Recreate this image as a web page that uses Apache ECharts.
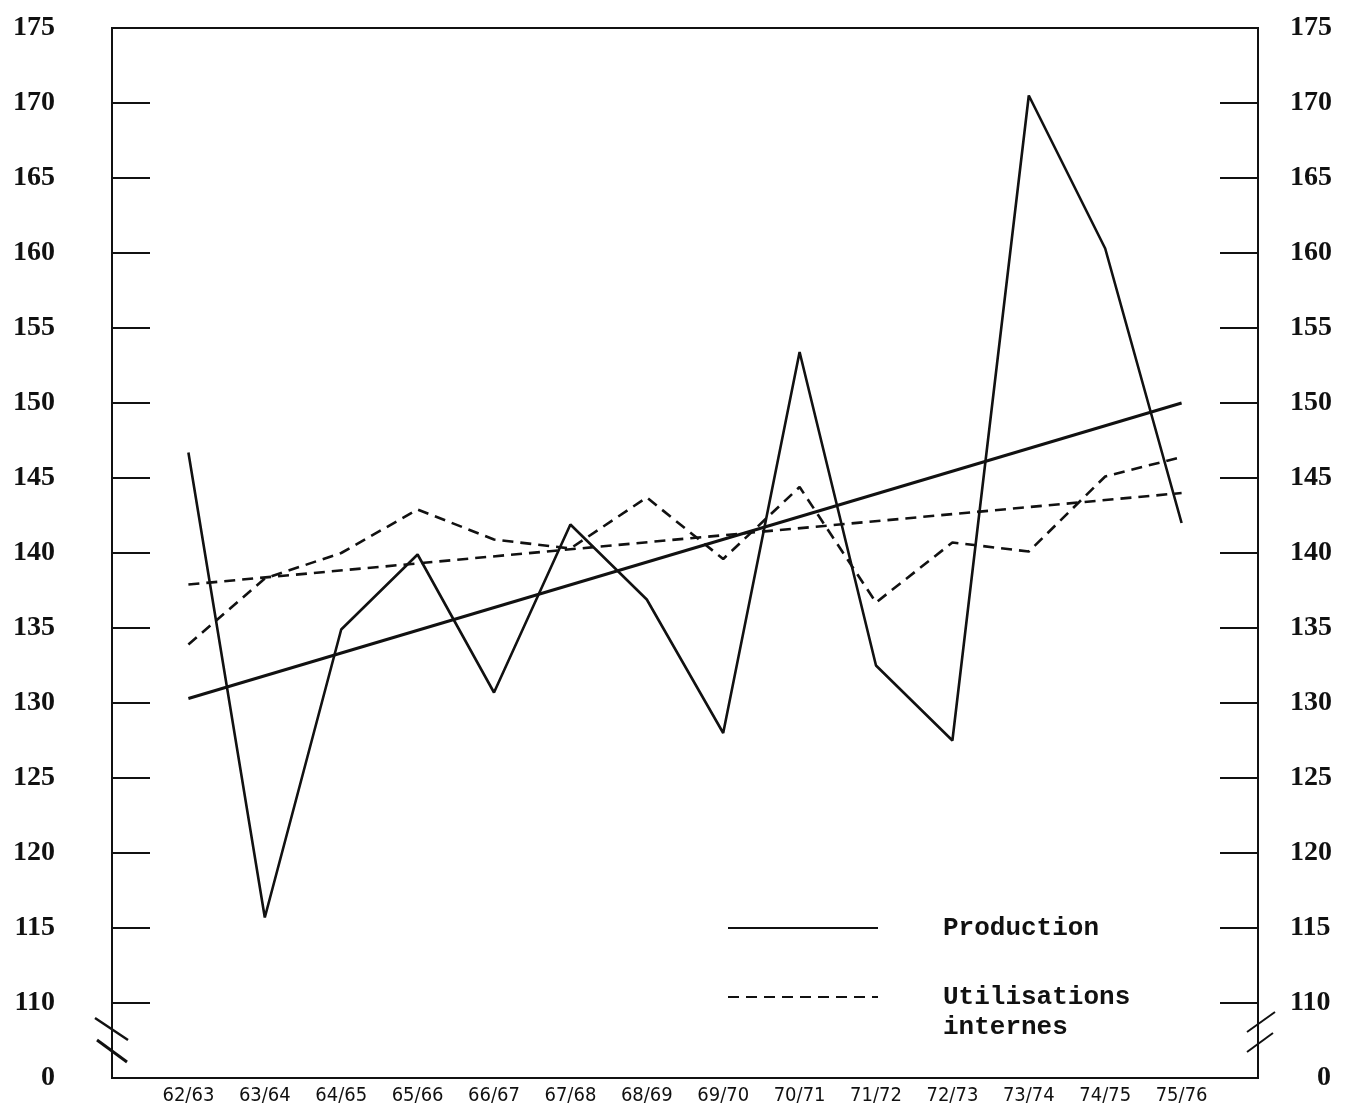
<!DOCTYPE html>
<html>
<head>
<meta charset="utf-8">
<script src="https://cdn.jsdelivr.net/npm/echarts@6/dist/echarts.min.js"></script>
<style>
  html, body { margin: 0; padding: 0; background: #fff; }
  #chart { width: 1347px; height: 1117px; }
</style>
</head>
<body>
<div id="chart"></div>
<script>
// ---- data ----
const years = ['62/63','63/64','64/65','65/66','66/67','67/68','68/69','69/70','70/71','71/72','72/73','73/74','74/75','75/76'];
const production = [146.7, 115.7, 134.9, 139.9, 130.7, 141.9, 136.9, 128.0, 153.4, 132.5, 127.5, 170.5, 160.3, 142.0];
const utilisations = [133.9, 138.3, 140.0, 142.9, 140.9, 140.3, 143.7, 139.6, 144.4, 136.7, 140.7, 140.1, 145.1, 146.4];
// trend lines: values at first and last year
const productionTrendEnds = [130.3, 150.0];
const utilisationsTrendEnds = [137.9, 144.0];
// y axis: 105 stands for the broken-axis "0"
const yMin = 105, yMax = 175, yStep = 5;
const yBreakLabel = '0';

// ---- build ----
const cats = [''].concat(years, ['']);
const pad = arr => [null].concat(arr, [null]);
const trend = ends => {
  const a = cats.map(() => null);
  a[1] = ends[0];
  a[years.length] = ends[1];
  return a;
};
const ink = '#111';
const yLabelFont = { fontFamily: 'Liberation Serif', fontWeight: 'bold', fontSize: 28, color: ink };
const legendText = { fontFamily: 'Liberation Mono', fontWeight: 'bold', fontSize: 26, color: ink, lineHeight: 30, padding: [0, 0, 0, 60] };
const hiddenSymbol = { color: 'transparent', borderColor: 'transparent', borderWidth: 0, opacity: 0 };

const chart = echarts.init(document.getElementById('chart'), null, { renderer: 'canvas' });
chart.setOption({
  animation: false,
  backgroundColor: '#fff',
  grid: {
    left: 112, right: 89, top: 28, bottom: 39,
    show: true, borderColor: ink, borderWidth: 2, backgroundColor: 'transparent'
  },
  legend: [
    {
      data: ['Production'],
      left: 727, top: 913, padding: 0,
      itemWidth: 150, itemHeight: 14,
      itemStyle: hiddenSymbol,
      textStyle: legendText
    },
    {
      data: ['Utilisations internes'],
      left: 727, top: 952, padding: 0,
      itemWidth: 150, itemHeight: 14,
      itemStyle: hiddenSymbol,
      formatter: () => '\nUtilisations\ninternes',
      textStyle: legendText
    }
  ],
  xAxis: {
    type: 'category',
    data: cats,
    boundaryGap: false,
    axisLine: { show: true, lineStyle: { color: ink, width: 2 } },
    axisTick: { show: false },
    splitLine: { show: false },
    axisLabel: {
      interval: 0, margin: 8,
      fontFamily: "'Liberation Sans Narrow', 'DejaVu Sans Condensed', 'Liberation Sans'",
      fontSize: 20, color: ink
    }
  },
  yAxis: [
    {
      type: 'value', position: 'left',
      min: yMin, max: yMax, interval: yStep,
      axisLine: { show: true, lineStyle: { color: ink, width: 2 } },
      axisTick: { show: true, inside: true, length: 38, lineStyle: { color: ink, width: 2 } },
      splitLine: { show: false },
      axisLabel: Object.assign({
        margin: 57, align: 'right',
        formatter: v => (v === yMin ? yBreakLabel : String(v))
      }, yLabelFont)
    },
    {
      type: 'value', position: 'right',
      min: yMin, max: yMax, interval: yStep,
      axisLine: { show: true, lineStyle: { color: ink, width: 2 } },
      axisTick: { show: true, inside: true, length: 38, lineStyle: { color: ink, width: 2 } },
      splitLine: { show: false },
      axisLabel: Object.assign({
        margin: 32, align: 'left',
        formatter: v => (v === yMin ? '{z|' + yBreakLabel + '}' : String(v)),
        rich: { z: Object.assign({ padding: [0, 0, 0, 27] }, yLabelFont) }
      }, yLabelFont)
    }
  ],
  series: [
    {
      name: 'Production', type: 'line', data: pad(production),
      symbol: 'none', itemStyle: { color: ink },
      lineStyle: { color: ink, width: 2.6, type: 'solid' }
    },
    {
      name: 'Utilisations internes', type: 'line', data: pad(utilisations),
      symbol: 'none', itemStyle: { color: ink },
      lineStyle: { color: ink, width: 2.6, type: [11, 7] }
    },
    {
      name: 'Production (tendance)', type: 'line', data: trend(productionTrendEnds),
      connectNulls: true, symbol: 'none',
      lineStyle: { color: ink, width: 3, type: 'solid' }
    },
    {
      name: 'Utilisations internes (tendance)', type: 'line', data: trend(utilisationsTrendEnds),
      connectNulls: true, symbol: 'none',
      lineStyle: { color: ink, width: 2.6, type: [11, 7] }
    }
  ],
  graphic: [
    // axis break marks
    { type: 'line', shape: { x1: 95, y1: 1018, x2: 128, y2: 1040 }, style: { stroke: ink, lineWidth: 2.5 } },
    { type: 'line', shape: { x1: 97, y1: 1040, x2: 127, y2: 1062 }, style: { stroke: ink, lineWidth: 3 } },
    { type: 'line', shape: { x1: 1275, y1: 1012, x2: 1247, y2: 1032 }, style: { stroke: ink, lineWidth: 2 } },
    { type: 'line', shape: { x1: 1273, y1: 1033, x2: 1247, y2: 1052 }, style: { stroke: ink, lineWidth: 2 } }
  ]
});
</script>
</body>
</html>
